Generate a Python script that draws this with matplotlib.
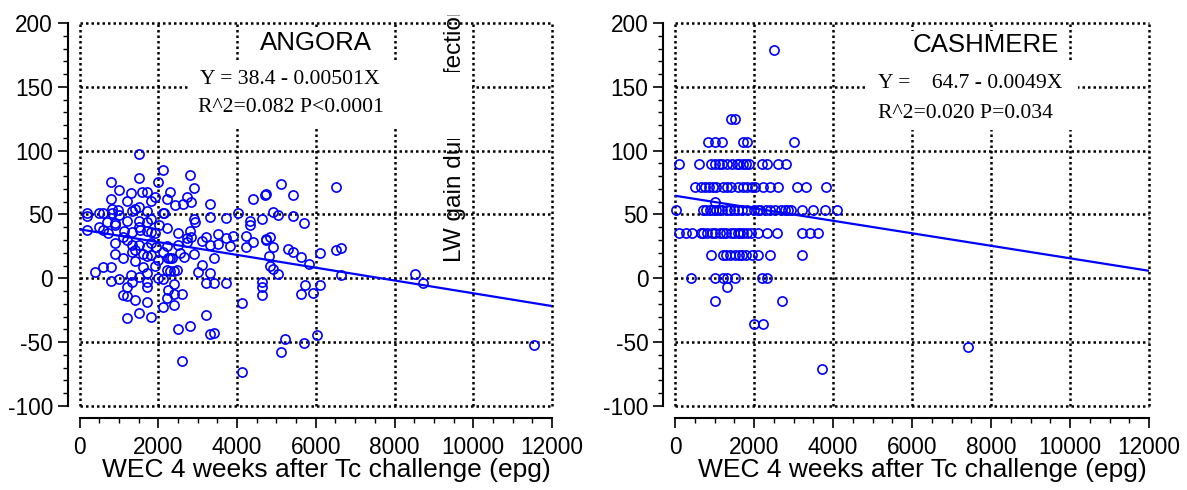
import matplotlib
matplotlib.use("Agg")
import matplotlib.pyplot as plt
from matplotlib.patches import Rectangle
from matplotlib.ticker import MultipleLocator

plt.rcParams['font.family'] = ['Liberation Sans', 'DejaVu Sans']
plt.rcParams['axes.unicode_minus'] = False

W, H = 1187, 490

# ANGORA: WEC (epg) vs LW gain
angora_wec = [
    1510, 2111, 800, 1510, 2000, 2805, 2906, 1003, 1307, 1594, 1721, 800, 1198, 1815, 1916, 2297,
    2213, 2424, 2619, 2721, 2822, 3312, 4411, 4708,
    198, 198, 503, 604, 817, 817, 985, 1010, 1325, 1409, 1518, 1706, 1815, 2111, 690, 901, 1198,
    1518, 1518, 1706, 198, 503, 716, 1137, 1325, 1535, 1706, 1916, 2025, 2213, 2145, 2906, 2932,
    3312, 3718, 4015, 4327, 4327, 4624, 2508, 2805, 2822, 3101, 3211, 3523, 3718, 3904, 3523, 3312,
    3820, 4218, 4218, 4411, 4733, 4818, 4835, 901, 1198, 1112, 1518, 1706, 1409, 1325, 1807, 1604,
    1721, 1807, 901, 1112, 1942, 2111, 2213, 2297, 2508, 2721, 2551, 2660, 2906, 2254, 2340, 2467,
    2398, 2297, 3101, 3016, 3312, 3211, 3414, 3718, 3414, 1916, 1706, 1706, 1706, 1307, 1518, 2000,
    2111, 393, 604, 800, 800, 1003, 1198, 1096, 1409, 1706, 1198, 1518, 1807, 2111, 2213, 2398,
    2398, 2609, 2398, 2508, 2805, 3211, 3312, 3414, 2609, 4116, 4624, 4624, 4624, 4116,
    604, 901, 1325, 1815, 2721, 1604, 1409, 2000, 2213, 1325, 1198, 2254,
    5114, 6510, 4726, 5411, 4919, 5046, 5411, 5706, 4726, 4835, 4919, 5300, 5427, 5614, 5825, 6104,
    6510, 6630, 4919, 5046, 5723, 5622, 5919, 6104, 6630, 8515, 8726, 5216, 5114, 5706, 6020, 11535,
]
angora_lw = [
    97.3, 85.0, 75.8, 78.5, 75.8, 81.0, 71.0, 69.3, 66.7, 68.0, 68.0, 62.3, 60.7, 60.7, 64.0, 68.0,
    62.3, 57.5, 58.3, 63.6, 60.1, 58.1, 62.0, 65.4,
    51.0, 49.0, 51.0, 51.0, 54.0, 51.0, 53.6, 49.7, 52.9, 54.2, 55.7, 52.9, 46.4, 51.5, 44.5, 43.2, 45.0,
    45.3, 40.6, 44.5, 38.0, 40.6, 35.4, 37.4, 36.6, 38.0, 37.4, 35.4, 41.9, 39.3, 51.0, 46.4, 44.5,
    47.9, 47.1, 51.5, 45.3, 41.9, 46.4, 35.4, 37.4, 32.7, 29.6, 32.7, 34.8, 31.5, 33.3, 27.0, 26.2,
    25.4, 33.3, 24.9, 28.8, 30.1, 17.6, 9.8, 27.6, 30.1, 32.3, 26.2, 24.9, 22.3, 21.0, 28.0, 19.2,
    17.6, 18.4, 19.2, 15.8, 24.9, 21.0, 25.4, 15.8, 26.2, 28.8, 19.7, 17.1, 19.0, 15.8, 15.8, 6.7,
    6.1, 6.1, 10.6, 5.3, 4.5, -3.3, -3.8, -3.3, 15.8, 9.8, 4.5, -2.5, -6.4, 2.7, 1.4, 0.2,
    -0.4, 5.3, 9.2, 9.2, -1.7, -0.6, -6.9, -12.9, -16.8, -18.6, -31.2, -26.8, -29.9, -22.1, -15.5, -20.8,
    -12.1, -12.1, -4.3, -39.8, -37.2, -28.6, -43.5, -42.9, -65.1, -19.4, -2.5, -6.4, -12.9, -73.0,
    38.0, 41.9, 26.2, 36.6, 31.5, 9.2, 13.2, 14.5, 6.7, -2.5, -14.2, -9.0,
    73.8, 71.4, 65.9, 65.4, 52.3, 49.7, 48.9, 43.2, 30.7, 32.0, 24.9, 22.9, 21.0, 17.1, 11.4, 19.7,
    22.3, 23.6, 7.2, 3.5, -5.1, -12.4, -11.6, -5.1, 2.7, 3.5, -3.3, -47.6, -57.8, -50.3, -44.2, -52.0,
]

# CASHMERE: WEC (epg) vs LW gain (recorded in steps of ~17.9)
cash_wec = [
    2514,
    1418, 1520,
    843, 1013, 1198, 1714, 1830, 3013,
    109, 616, 904, 1013, 1122, 1200, 1309, 1435, 1560, 1628, 1720, 1798, 1881, 2195, 2337, 2616, 2810,
    506, 650, 760, 869, 970, 1038, 1223, 1309, 1410, 1603, 1714, 1830, 1942, 2026, 2220, 2405, 2616,
    3097, 3317, 3816,
    17, 701, 780, 886, 970, 1040, 1122, 1200, 1309, 1400, 1500, 1603, 1700, 1830, 2000, 2100, 2152,
    2304, 2400, 2532, 2675, 2785, 2850, 2929, 3208, 3502, 3798, 4110,
    109, 278, 422, 650, 717, 800, 929, 1000, 1139, 1223, 1300, 1410, 1500, 1603, 1650, 1714, 1830,
    1916, 2109, 2322, 2590, 3208, 3418, 3628,
    904, 1208, 1300, 1393, 1519, 1628, 1700, 1798, 1942, 2109, 2405, 3208,
    405, 1013, 1208, 1309, 1519, 2195, 2322,
    1309, 1013,
    1013, 2717,
    2008, 2220,
    7427,
    3714,
]
cash_lw = [
    178.6,
    125.0, 125.0,
    107.1, 107.1, 107.1, 107.1, 107.1, 107.1,
    89.3, 89.3, 89.3, 89.3, 89.3, 89.3, 89.3, 89.3, 89.3, 89.3, 89.3, 89.3, 89.3, 89.3, 89.3, 89.3, 89.3,
    71.4, 71.4, 71.4, 71.4, 71.4, 71.4, 71.4, 71.4, 71.4, 71.4, 71.4, 71.4, 71.4, 71.4, 71.4, 71.4, 71.4,
    71.4, 71.4, 71.4,
    53.6, 53.6, 53.6, 53.6, 53.6, 53.6, 53.6, 53.6, 53.6, 53.6, 53.6, 53.6, 53.6, 53.6, 53.6, 53.6, 53.6,
    53.6, 53.6, 53.6, 53.6, 53.6, 53.6, 53.6, 53.6, 53.6, 53.6, 53.6,
    35.7, 35.7, 35.7, 35.7, 35.7, 35.7, 35.7, 35.7, 35.7, 35.7, 35.7, 35.7, 35.7, 35.7, 35.7, 35.7, 35.7,
    35.7, 35.7, 35.7, 35.7, 35.7, 35.7, 35.7,
    17.9, 17.9, 17.9, 17.9, 17.9, 17.9, 17.9, 17.9, 17.9, 17.9, 17.9, 17.9,
    0.0, 0.0, 0.0, 0.0, 0.0, 0.0, 0.0,
    -6.4, 59.4,
    -17.9, -17.9,
    -35.7, -35.7,
    -53.6,
    -71.4,
]

# fitted lines: intercept, slope
angora_fit = (38.4, -0.00501)
cash_fit = (64.7, -0.0049)
fit_x = [0, 12000]


def px_box(x0, y0, x1, y1):
    # white box given in pixel coords (top-left origin)
    return Rectangle((x0 / W, 1 - y1 / H), (x1 - x0) / W, (y1 - y0) / H,
                     transform=fig.transFigure, fc='white', ec='none', zorder=1)


def style_axes(ax):
    ax.set_xlim(0, 12000)
    ax.set_ylim(-100, 200)
    ax.xaxis.set_major_locator(MultipleLocator(2000))
    ax.xaxis.set_minor_locator(MultipleLocator(500))
    ax.yaxis.set_major_locator(MultipleLocator(50))
    ax.yaxis.set_minor_locator(MultipleLocator(10))
    ax.spines['top'].set_visible(False)
    ax.spines['right'].set_visible(False)
    for s in ('left', 'bottom'):
        ax.spines[s].set_position(('outward', 8.4))
        ax.spines[s].set_linewidth(1.5)
    ax.tick_params(which='major', length=7.2, width=1.2, labelsize=16.3, pad=3.5)
    ax.tick_params(which='minor', length=3.6, width=1.0)
    ax.tick_params(axis='x', which='major', pad=6)
    ax.grid(True, which='major', color='black', linestyle=(0, (1, 1.2)), linewidth=1.8)
    ax.set_axisbelow(True)
    # keep the edge grid lines whole
    for gl in ax.get_xgridlines() + ax.get_ygridlines():
        gl.set_clip_on(False)


fig = plt.figure(figsize=(W / 100, H / 100), dpi=100)
ax1 = fig.add_axes([79.5 / W, 84 / H, 472.5 / W, 383 / H])
ax2 = fig.add_axes([675 / W, 84 / H, 474 / W, 383 / H])

for ax, xs, ys, fit in ((ax1, angora_wec, angora_lw, angora_fit),
                        (ax2, cash_wec, cash_lw, cash_fit)):
    style_axes(ax)
    ax.plot(xs, ys, 'o', ms=6.6, mfc='none', mec='#0000FF', mew=1.2, clip_on=False, zorder=3)
    ax.plot(fit_x, [fit[0] + fit[1] * x for x in fit_x], color='#0000FF', lw=1.6, zorder=4)

# axis titles
for cx in (326, 922):
    fig.text(cx / W, 1 - 470 / H, 'WEC 4 weeks after Tc challenge (epg)', fontsize=19,
             ha='center', va='center')

# stray y label partly hidden behind the annotation boxes
fig.text(455 / W, 1 - 262 / H, 'LW gain during infection', fontsize=17.6, rotation=90,
         ha='center', va='bottom', zorder=0.5)

# white boxes behind the annotations
fig.patches.extend([
    px_box(245, 28, 390, 60),
    px_box(188, 62, 440, 128),
    px_box(440, 72, 472, 139),
    px_box(188, 72, 472, 128),
    px_box(430, 0, 480, 15),
    px_box(905, 31, 1065, 62),
    px_box(867, 62, 1078, 130),
])

fig.text(316 / W, 1 - 43 / H, 'ANGORA', fontsize=18.6, ha='center', va='center', zorder=3)
fig.text(200 / W, 1 - 79 / H, 'Y = 38.4 - 0.00501X', fontsize=15.6, family='Liberation Serif',
         ha='left', va='center', zorder=3)
fig.text(198 / W, 1 - 108 / H, 'R^2=0.082 P<0.0001', fontsize=15.6, family='Liberation Serif',
         ha='left', va='center', zorder=3)

fig.text(986 / W, 1 - 45 / H, 'CASHMERE', fontsize=18.6, ha='center', va='center', zorder=3)
fig.text(878 / W, 1 - 83 / H, 'Y =    64.7 - 0.0049X', fontsize=15.6, family='Liberation Serif',
         ha='left', va='center', zorder=3)
fig.text(878 / W, 1 - 113 / H, 'R^2=0.020 P=0.034', fontsize=15.6, family='Liberation Serif',
         ha='left', va='center', zorder=3)

fig.savefig('out.png', dpi=100)
